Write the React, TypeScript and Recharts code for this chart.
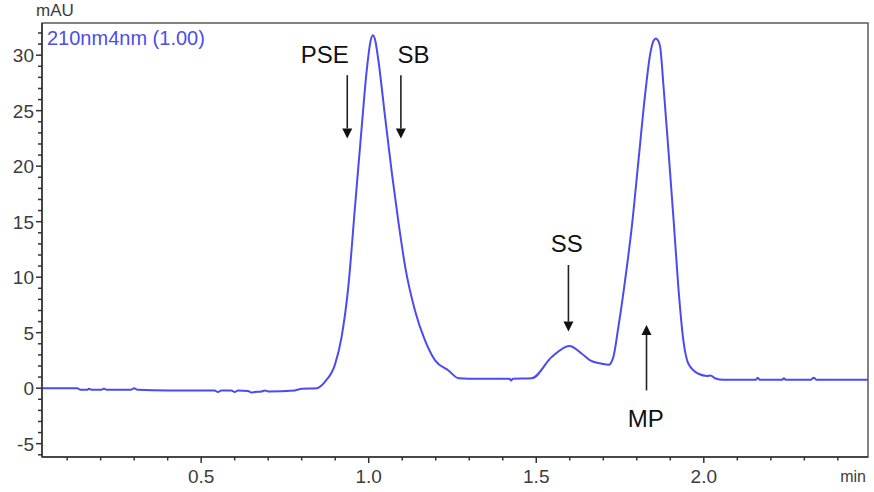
import React from 'react';
import { LineChart, Line, XAxis, YAxis, ReferenceArea, ReferenceLine, ReferenceDot } from 'recharts';

// retention time (min) and detector signal (mAU)
const times = [
  0.025, 0.13, 0.14, 0.16, 0.165, 0.175, 0.2, 0.21, 0.22, 0.29, 0.3, 0.31, 0.4, 0.54, 0.55, 0.56,
  0.59, 0.6, 0.61, 0.64, 0.65, 0.66, 0.68, 0.69, 0.7, 0.78, 0.8, 0.845,
  0.87, 0.899, 0.919, 0.939, 0.959, 0.979, 0.994, 1.005, 1.012, 1.019, 1.029, 1.049, 1.069, 1.089,
  1.109, 1.138, 1.168, 1.198, 1.238, 1.268, 1.33, 1.42, 1.425, 1.43, 1.487,
  1.546, 1.599, 1.636, 1.661, 1.696, 1.716, 1.73, 1.745, 1.765, 1.785, 1.805, 1.825, 1.84, 1.85,
  1.857, 1.864, 1.87, 1.88, 1.895, 1.91, 1.924, 1.939, 1.954, 1.984, 2.01, 2.02, 2.033, 2.06,
  2.155, 2.161, 2.167, 2.233, 2.239, 2.245, 2.32, 2.328, 2.336, 2.49,
];
const signal = [
  0.0, 0.0, -0.15, -0.15, -0.05, -0.15, -0.15, -0.05, -0.15, -0.15, 0.0, -0.15, -0.2, -0.2, -0.35, -0.2,
  -0.2, -0.35, -0.2, -0.25, -0.4, -0.35, -0.3, -0.2, -0.3, -0.2, -0.05, 0.0,
  0.6, 2.1, 4.6, 9.1, 16.3, 23.5, 28.6, 31.2, 31.8, 31.4, 29.5, 24.4, 19.4, 14.9,
  10.9, 7.0, 4.3, 2.5, 1.6, 0.9, 0.85, 0.85, 0.7, 0.85, 0.9,
  2.8, 3.8, 3.1, 2.5, 2.2, 2.1, 2.8, 5.5, 9.7, 14.5, 20.5, 26.5, 30.1, 31.3,
  31.5, 31.3, 30.7, 27.1, 21.2, 15.1, 9.1, 4.3, 2.2, 1.3, 1.1, 1.15, 0.9, 0.75,
  0.75, 0.95, 0.75, 0.75, 0.9, 0.75, 0.75, 0.95, 0.75, 0.75,
];

const xDomain = [0.025, 2.49];
const yDomain = [-6.2, 32.9];
const xTicks = [0.1, 0.2, 0.3, 0.4, 0.5, 0.6, 0.7, 0.8, 0.9, 1.0, 1.1, 1.2, 1.3, 1.4, 1.5, 1.6, 1.7, 1.8, 1.9, 2.0, 2.1, 2.2, 2.3, 2.4];
const xMajor = [0.5, 1.0, 1.5, 2.0];
const yTicks = [-6, -5, -4, -3, -2, -1, 0, 1, 2, 3, 4, 5, 6, 7, 8, 9, 10, 11, 12, 13, 14, 15, 16, 17, 18, 19, 20, 21, 22, 23, 24, 25, 26, 27, 28, 29, 30, 31, 32];
const yMajor = [-5, 0, 5, 10, 15, 20, 25, 30];

// peak labels with their arrows (arrow from -> to, head at "to")
const peakNames = ['PSE', 'SB', 'SS', 'MP'];
const labelX = [0.869, 1.134, 1.591, 1.827];
const labelY = [29.3, 29.3, 12.3, -3.5];
const arrowX = [0.936, 1.096, 1.596, 1.829];
const arrowFrom = [28.2, 28.2, 11.1, -0.2];
const arrowTo = [22.5, 22.5, 5.1, 5.7];

const data = times.map((t, i) => ({ t, v: signal[i] }));

const FONT = "'Liberation Sans', Arial, sans-serif";
const TICK_COLOR = '#3c3c3c';
const TRACE = '#4b4bef';

const isIn = (list: number[], v: number) => list.some((m) => Math.abs(m - v) < 1e-6);

const XTick = (props: any) => {
  const { x, y, payload } = props;
  const major = isIn(xMajor, payload.value);
  return (
    <g>
      <line x1={x} y1={y} x2={x} y2={y + (major ? 6 : 3.5)} stroke="#333" strokeWidth={1.5} />
      {major && (
        <text x={x} y={y + 26} textAnchor="middle" fill={TICK_COLOR} fontSize={19} fontFamily={FONT}>
          {payload.value.toFixed(1)}
        </text>
      )}
    </g>
  );
};

const YTick = (props: any) => {
  const { x, y, payload } = props;
  const major = isIn(yMajor, payload.value);
  return (
    <g>
      <line x1={x} y1={y} x2={x - (major ? 6 : 4)} y2={y} stroke="#333" strokeWidth={1.5} />
      {major && (
        <text x={x - 8} y={y} dy="0.36em" textAnchor="end" fill={TICK_COLOR} fontSize={19} fontFamily={FONT}>
          {payload.value}
        </text>
      )}
    </g>
  );
};

const Arrow = (props: any) => {
  const { x1, y1, x2, y2 } = props;
  const dir = y2 > y1 ? 1 : -1;
  const headLen = 10;
  return (
    <g>
      <line x1={x1} y1={y1} x2={x2} y2={y2 - dir * headLen} stroke="#222" strokeWidth={1.6} />
      <polygon points={`${x2 - 5},${y2 - dir * headLen} ${x2 + 5},${y2 - dir * headLen} ${x2},${y2}`} fill="#111" />
    </g>
  );
};

const PeakLabel = (name: string) => (props: any) => (
  <text x={props.cx} y={props.cy} textAnchor="middle" fill="#111" fontSize={24} fontFamily={FONT}>
    {name}
  </text>
);

export default function App() {
  return (
    <div style={{ position: 'absolute', left: 0, top: 0, width: 874, height: 492, background: '#fff' }}>
      <LineChart width={874} height={492} data={data} margin={{ top: 23, right: 6, bottom: 0, left: 0 }}>
        <XAxis
          dataKey="t"
          type="number"
          domain={xDomain}
          ticks={xTicks}
          interval={0}
          allowDataOverflow
          height={35}
          tickSize={0}
          tickMargin={0}
          tickLine={false}
          tick={XTick}
          axisLine={{ stroke: '#333', strokeWidth: 1.5 }}
        />
        <YAxis
          type="number"
          domain={yDomain}
          ticks={yTicks}
          interval={0}
          allowDataOverflow
          width={42}
          tickSize={0}
          tickMargin={0}
          tickLine={false}
          tick={YTick}
          axisLine={{ stroke: '#333', strokeWidth: 1.5 }}
        />
        <ReferenceArea
          x1={xDomain[0]}
          x2={xDomain[1]}
          y1={yDomain[0]}
          y2={yDomain[1]}
          fill="none"
          stroke="#5a5a5a"
          strokeWidth={1.5}
          ifOverflow="visible"
        />
        <Line type="monotone" dataKey="v" stroke={TRACE} strokeWidth={2} dot={false} isAnimationActive={false} />
        {peakNames.map((name, i) => (
          <ReferenceLine
            key={`a-${name}`}
            segment={[
              { x: arrowX[i], y: arrowFrom[i] },
              { x: arrowX[i], y: arrowTo[i] },
            ]}
            ifOverflow="visible"
            shape={Arrow}
          />
        ))}
        {peakNames.map((name, i) => (
          <ReferenceDot key={`l-${name}`} x={labelX[i]} y={labelY[i]} r={0} ifOverflow="visible" shape={PeakLabel(name)} />
        ))}
      </LineChart>
      <div style={{ position: 'absolute', left: 36, top: 2, fontFamily: FONT, fontSize: 17, color: TICK_COLOR, lineHeight: 1 }}>
        mAU
      </div>
      <div style={{ position: 'absolute', left: 47, top: 28, fontFamily: FONT, fontSize: 20, color: '#4d4de8', lineHeight: 1 }}>
        210nm4nm (1.00)
      </div>
      <div style={{ position: 'absolute', right: 8, top: 469, fontFamily: FONT, fontSize: 16, color: TICK_COLOR, lineHeight: 1 }}>
        min
      </div>
    </div>
  );
}
